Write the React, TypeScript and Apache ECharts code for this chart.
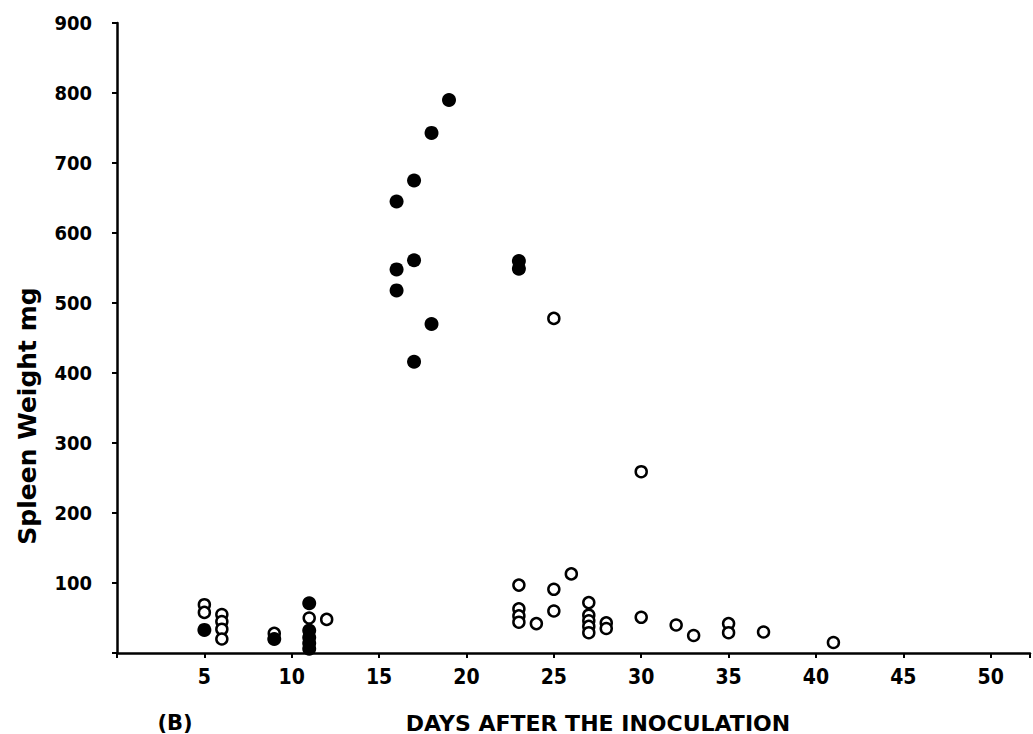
import React, { useEffect, useRef } from "react";
import * as echarts from "echarts";

// Days after inoculation / spleen weight (mg)
const filledDays = [19, 18, 17, 16, 17, 16, 16, 18, 17, 23, 23, 5, 9, 11, 11, 11, 11, 11];
const filledWeights = [790, 743, 675, 645, 561, 548, 518, 470, 416, 560, 549, 33, 20, 71, 32, 22, 14, 6];

const openDays = [5, 5, 6, 6, 6, 6, 9, 11, 12, 23, 23, 23, 23, 24, 25, 25, 25, 26, 27, 27, 27, 27, 27, 28, 28, 30, 30, 32, 33, 35, 35, 37, 41];
const openWeights = [69, 58, 55, 45, 34, 20, 28, 50, 48, 97, 63, 53, 44, 42, 478, 91, 60, 113, 72, 54, 46, 38, 29, 43, 35, 259, 51, 40, 25, 42, 29, 30, 15];

const yTicks = [0, 100, 200, 300, 400, 500, 600, 700, 800, 900];
const xTicks = [0, 5, 10, 15, 20, 25, 30, 35, 40, 45, 50];

const yTitle = "Spleen Weight mg";
const xTitle = "DAYS AFTER THE INOCULATION";
const panelLabel = "(B)";

export default function App() {
  const ref = useRef<HTMLDivElement>(null);
  useEffect(() => {
    if (!ref.current) return;
    const chart = echarts.init(ref.current, undefined, { renderer: "svg" });
    const filled = filledDays.map((d, i) => [d, filledWeights[i]]);
    const open = openDays.map((d, i) => [d, openWeights[i]]);
    const axisColor = "#000";
    chart.setOption({
      animation: false,
      backgroundColor: "#fff",
      grid: { left: 117, right: 0, top: 23, bottom: 81, containLabel: false },
      xAxis: {
        type: "value",
        min: xTicks[0],
        max: 52.25,
        interval: 5,
        splitLine: { show: false },
        axisLine: { show: true, onZero: false, lineStyle: { color: axisColor, width: 2.5 } },
        axisTick: { show: true, length: 5, lineStyle: { color: axisColor, width: 2 } },
        axisLabel: {
          color: "#000",
          fontFamily: "'DejaVu Sans Condensed', 'DejaVu Sans', sans-serif",
          fontWeight: "bold",
          fontSize: 21,
          margin: 13,
          formatter: (v: number) => (v === 0 || v % 5 !== 0 || v > 50 ? "" : String(v)),
        },
      },
      yAxis: {
        type: "value",
        min: yTicks[0],
        max: yTicks[yTicks.length - 1],
        interval: 100,
        splitLine: { show: false },
        axisLine: { show: true, onZero: false, lineStyle: { color: axisColor, width: 2.5 } },
        axisTick: { show: true, length: 5, lineStyle: { color: axisColor, width: 2 } },
        axisLabel: {
          color: "#000",
          fontFamily: "'DejaVu Sans Condensed', 'DejaVu Sans', sans-serif",
          fontWeight: "bold",
          fontSize: 20,
          margin: 25,
          formatter: (v: number) => (v === 0 ? "" : String(v)),
        },
      },
      series: [
        {
          type: "scatter",
          data: open,
          symbol: "circle",
          symbolSize: 11,
          itemStyle: { color: "#fff", borderColor: "#000", borderWidth: 2.5, opacity: 1 },
          z: 2,
        },
        {
          type: "scatter",
          data: filled,
          symbol: "circle",
          symbolSize: 14,
          itemStyle: { color: "#000", opacity: 1 },
          z: 3,
        },
      ],
      graphic: [
        {
          type: "text",
          x: 27,
          y: 416,
          rotation: Math.PI / 2,
          style: {
            text: yTitle,
            fill: "#000",
            font: "bold 25px 'DejaVu Sans', sans-serif",
            textAlign: "center",
            textVerticalAlign: "middle",
          },
        },
        {
          type: "text",
          x: 598,
          y: 723,
          style: {
            text: xTitle,
            fill: "#000",
            font: "bold 22px 'DejaVu Sans', sans-serif",
            textAlign: "center",
            textVerticalAlign: "middle",
          },
        },
        {
          type: "text",
          x: 175,
          y: 723,
          style: {
            text: panelLabel,
            fill: "#000",
            font: "bold 21px 'DejaVu Sans', sans-serif",
            textAlign: "center",
            textVerticalAlign: "middle",
          },
        },
      ],
    });
    return () => chart.dispose();
  }, []);
  return (
    <div
      ref={ref}
      style={{ position: "absolute", left: 0, top: 0, width: 1033, height: 734, background: "#fff" }}
    />
  );
}
